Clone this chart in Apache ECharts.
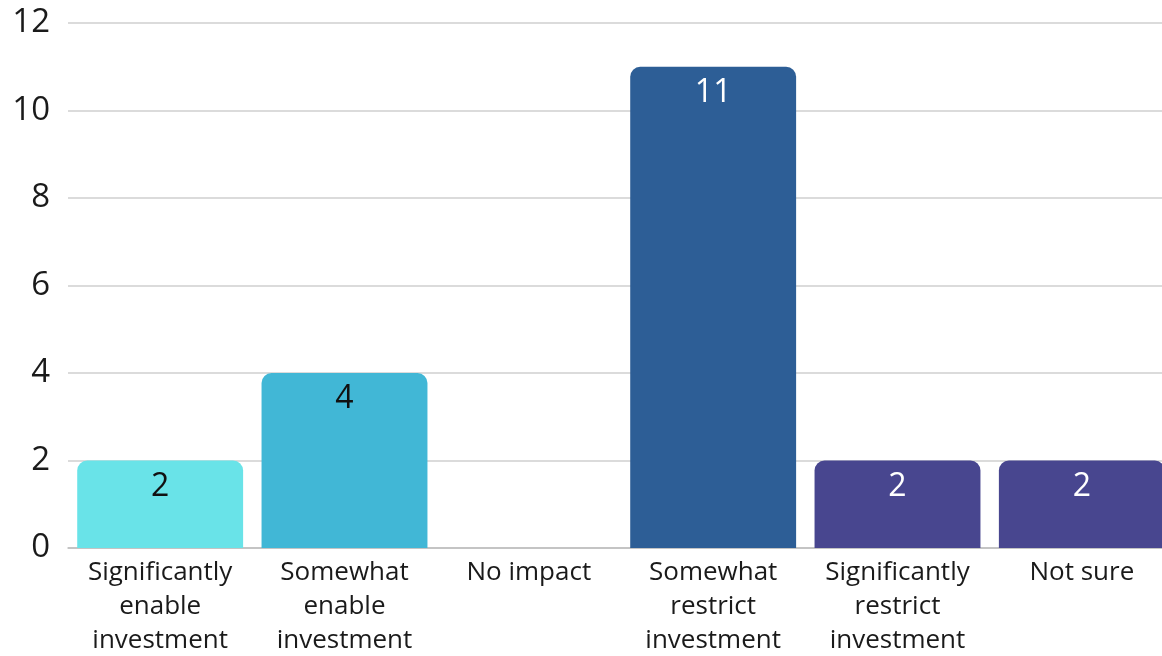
<!DOCTYPE html>
<html>
<head>
<meta charset="utf-8">
<script src="https://cdn.jsdelivr.net/npm/echarts@6/dist/echarts.min.js"></script>
<style>
  html, body { margin: 0; padding: 0; background: #fff; overflow: hidden; }
  #chart { width: 1162px; height: 656px; }
</style>
</head>
<body>
<div id="chart"></div>
<script>
const categories = [
  "Significantly\nenable\ninvestment",
  "Somewhat\nenable\ninvestment",
  "No impact",
  "Somewhat\nrestrict\ninvestment",
  "Significantly\nrestrict\ninvestment",
  "Not sure",
];
const values = [2, 4, 0, 11, 2, 2];
const barColors = ["#69E3E8", "#41B7D6", "#2D5E96", "#2D5E96", "#48468F", "#48468F"];
const labelColors = ["#111", "#111", "#fff", "#fff", "#fff", "#fff"];
const yTicks = [0, 2, 4, 6, 8, 10, 12];

const renderChart = () => {
  var myChart = echarts.init(document.getElementById("chart"));
  const font = "'Open Sans', sans-serif";

  var option = {
    animation: false,
    grid: {
      left: 68, top: 23, width: 1106, height: 525,
      containLabel: false,
      outerBoundsMode: "none",
    },
    xAxis: {
      type: "category",
      data: categories,
      axisTick: { show: false },
      axisLine: { lineStyle: { color: "#bdbdbd", width: 1.5 } },
      axisLabel: {
        color: "#1a1a1a",
        fontSize: 26,
        fontFamily: font,
        lineHeight: 34,
        margin: 8,
        interval: 0,
      },
    },
    yAxis: {
      type: "value",
      min: yTicks[0],
      max: yTicks[yTicks.length - 1],
      interval: 2,
      axisLine: { show: false },
      axisTick: { show: false },
      splitLine: { lineStyle: { color: "#cfcfcf", width: 1.5 } },
      axisLabel: { color: "#1a1a1a", fontSize: 33, fontFamily: font, margin: 18 },
    },
    series: [
      {
        type: "bar",
        barCategoryGap: "10%",
        data: values.map((v, i) => ({
          value: v,
          itemStyle: { color: barColors[i], borderRadius: [10, 10, 0, 0] },
          label: { color: labelColors[i], show: v > 0 },
        })),
        label: {
          show: true,
          position: "insideTop",
          distance: 10,
          fontSize: 32,
          fontFamily: font,
        },
      },
    ],
  };

  myChart.setOption(option);
};

document.addEventListener("DOMContentLoaded", renderChart);
</script>
</body>
</html>
